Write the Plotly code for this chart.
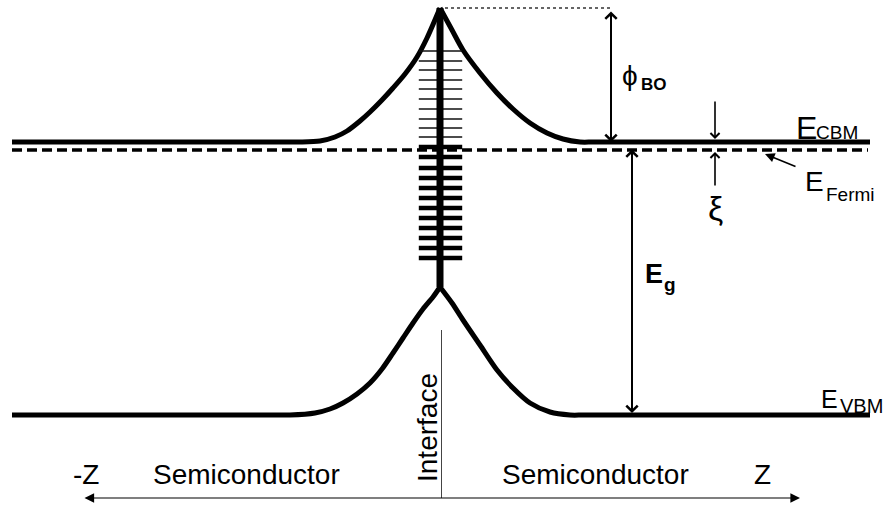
import plotly.graph_objects as go

# Band diagram of a semiconductor/semiconductor interface with interface states.
# Horizontal: position z (interface at z = 0). Vertical: electron energy (arb. units).

# Conduction band minimum, left and right of the interface
cbm_left_z = [-428, -155, -140, -120, -105, -93, -80, -70, -58, -47, -35, -23, -13, 0]
cbm_left_e = [366, 366, 366, 367, 371, 377, 387, 396, 408, 420, 434, 451, 470, 500]
cbm_right_z = [0, 12, 23, 40, 57, 73, 90, 107, 123, 140, 155, 430]
cbm_right_e = [500, 478, 458, 435, 415, 399, 385, 375, 369, 366, 366, 366]

# Valence band maximum
vbm_left_z = [-428, -165, -150, -125, -110, -97, -83, -70, -58, -47, -37, -27, -17, -7, 0]
vbm_left_e = [93, 93, 93, 95, 99, 105, 114, 125, 139, 155, 170, 185, 199, 211, 221]
vbm_right_z = [0, 12, 23, 40, 57, 73, 90, 110, 130, 145, 430]
vbm_right_e = [221, 205, 188, 163, 138, 120, 105, 96, 93, 93, 93]

# Fermi level
fermi_z = [-428, 428]
fermi_e = [358, 358]

# Interface states: empty (above E_F) and filled (below E_F)
traps_empty_e = [457, 447, 438, 428, 419, 409, 399, 389, 380, 371]
traps_filled_e = [361, 351, 340, 330, 320, 310, 300, 290, 280, 270, 260, 250]

# Interface stem, barrier top and valence-band cusp
stem_e = [221, 500]
barrier_top_e = 500

# Energy markers
phi_bo_z, phi_bo_top, phi_bo_bottom = 171, 498, 366
eg_z, eg_top, eg_bottom = 192, 360, 95
xi_z, xi_top_tail, xi_top_head, xi_bot_tail, xi_bot_head = 275, 408, 369, 321, 356
axis_e, axis_left, axis_right = 10, -357, 360

BLACK = "#000000"
FONT = "Liberation Sans, Arial, DejaVu Sans, sans-serif"

fig = go.Figure()

def band(z, e, **line):
    fig.add_trace(go.Scatter(x=z, y=e, mode="lines", hoverinfo="skip",
                             line=dict(color=BLACK, **line)))

band(cbm_left_z, cbm_left_e, width=5, shape="spline", smoothing=0.8)
band(cbm_right_z, cbm_right_e, width=5, shape="spline", smoothing=0.8)
band(vbm_left_z, vbm_left_e, width=5, shape="spline", smoothing=0.8)
band(vbm_right_z, vbm_right_e, width=5, shape="spline", smoothing=0.8)
band(fermi_z, fermi_e, width=3.5, dash="10px,5px")

# Interface-state levels
fig.add_trace(go.Scatter(
    x=[0.5] * len(traps_empty_e), y=traps_empty_e, mode="markers", hoverinfo="skip",
    marker=dict(symbol="line-ew", size=31, line=dict(width=1.5, color="#111111"))))
fig.add_trace(go.Scatter(
    x=[0.5] * len(traps_filled_e), y=traps_filled_e, mode="markers", hoverinfo="skip",
    marker=dict(symbol="line-ew", size=31, line=dict(width=4.5, color=BLACK))))

# Stem through the interface
band([0, 0], stem_e, width=7)

# Thin interface plane marker down to the z axis
fig.add_trace(go.Scatter(x=[1.5, 1.5], y=[178, axis_e], mode="lines", hoverinfo="skip",
                         line=dict(color="#444444", width=1)))

# Dotted reference at the barrier top
fig.add_trace(go.Scatter(x=[5, phi_bo_z], y=[barrier_top_e, barrier_top_e], mode="lines",
                         hoverinfo="skip", line=dict(color="#333333", width=1.5, dash="dot")))

def arrow(x0, y0, x1, y1, both=False, head=4, width=2, size=1.1):
    fig.add_annotation(x=x1, y=y1, ax=x0, ay=y0, xref="x", yref="y", axref="x", ayref="y",
                       text="", showarrow=True, arrowhead=head, startarrowhead=head,
                       arrowside="end+start" if both else "end",
                       arrowwidth=width, arrowsize=size, arrowcolor=BLACK,
                       standoff=0, startstandoff=0)

arrow(phi_bo_z, phi_bo_top, phi_bo_z, phi_bo_bottom, both=True)
arrow(eg_z, eg_top, eg_z, eg_bottom, both=True)
arrow(xi_z, xi_top_tail, xi_z, xi_top_head, width=1.6)
arrow(xi_z, xi_bot_tail, xi_z, xi_bot_head, width=1.6)
arrow(357, 341, 325, 354, width=1.6, head=2, size=1.2)
arrow(axis_left, axis_e, axis_right, axis_e, both=True, head=2, width=1.2, size=1.6)

def label(x, y, text, size, bold=False, angle=0, xanchor="center"):
    fig.add_annotation(x=x, y=y, xref="x", yref="y", text=f"<b>{text}</b>" if bold else text,
                       showarrow=False, xanchor=xanchor, yanchor="middle", textangle=angle,
                       font=dict(family=FONT, size=size, color=BLACK))

# Band labels (main letter plus subscript placed separately)
label(366, 380, "E", 32)
label(397, 376, "CBM", 19)
label(374, 327, "E", 28)
label(410, 314, "Fermi", 19)
label(389, 109, "E", 25)
label(421, 102, "VBM", 20)
label(190, 433, "ϕ", 28)
label(214, 424, "BO", 17, bold=True)
label(275, 300, "ξ", 34)
label(214, 234, "E", 27, bold=True)
label(230, 224, "g", 19, bold=True)

# Axis labels
label(-354, 34, "-Z", 28)
label(-194, 34, "Semiconductor", 28)
label(155, 34, "Semiconductor", 28)
label(322, 34, "Z", 28)
label(-13, 80, "Interface", 28, angle=-90)

fig.update_layout(
    width=885, height=508, margin=dict(l=0, r=0, t=0, b=0),
    paper_bgcolor="white", plot_bgcolor="white", showlegend=False,
    xaxis=dict(range=[-440, 445], visible=False, fixedrange=True),
    yaxis=dict(range=[0, 508], visible=False, fixedrange=True),
    hovermode=False,
)

fig.write_html("out.html")
